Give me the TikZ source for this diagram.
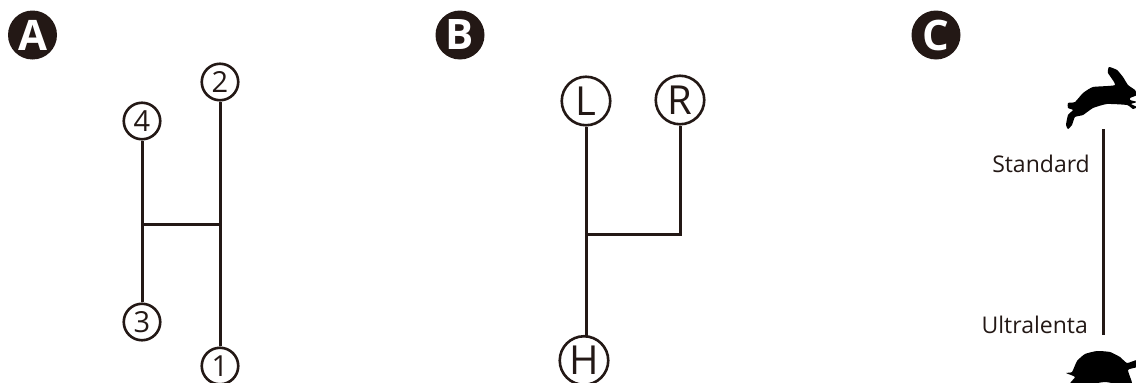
\documentclass[tikz,border=0pt]{standalone}
\usepackage{fontspec}
\setmainfont{Open Sans}
\definecolor{ink}{HTML}{231815}
\tikzset{
 x=1pt,y=-1pt,
 conn/.style={draw=ink,line width=3pt},
 posn/.style={circle,draw=ink,line width=2.6pt,fill=white,minimum size=36.5pt,inner sep=0pt,text=ink,font=\fontsize{29}{29}\selectfont},
 posb/.style={posn,minimum size=48.5pt,font=\fontsize{40}{40}\selectfont},
 badge/.style={circle,fill=ink,minimum size=49pt,inner sep=0pt,text=white,font=\fontsize{42}{42}\selectfont\bfseries},
 lab/.style={anchor=base east,inner sep=0pt,text=ink,font=\fontsize{23}{23}\selectfont},
 sil/.style={fill=black,draw=none}
}
\begin{document}
\begin{tikzpicture}
\useasboundingbox (0,0) rectangle (1136,383);
\node[badge] (a) at (32.5,35) {A};
\node[badge] (b) at (460,35) {B};
\node[badge] (c) at (936,35) {C};
\node[posn] (n2) at (220,82) {2};
\node[posn] (n4) at (142,121) {4};
\node[posn] (n3) at (142,322) {3};
\node[posn] (n1) at (220,366) {1};
\coordinate (j1) at (142,224);
\coordinate (j2) at (220,224);
\draw[conn] (n2) -- (n1);
\draw[conn] (n4) -- (n3);
\draw[conn] (j1) -- (j2);
\node[posb] (l) at (586,101) {L};
\node[posb] (r) at (680,100) {R};
\node[posb] (h) at (584,360.5) {H};
\coordinate (j3) at (586,234);
\coordinate (j4) at (680,234);
\coordinate (hh) at (586,336);
\draw[conn] (l) -- (hh);
\draw[conn] (j3) -- (j4) -- (r);
\coordinate (ct) at (1103,129);
\coordinate (cb) at (1103,335);
\draw[conn] (ct) -- (cb);
\node[lab] (s) at (1090,172) {Standard};
\node[lab] (u) at (1088,333.5) {Ultralenta};
\fill[sil] plot[smooth cycle,tension=0.3] coordinates {(1109,67)(1117,70)(1123,77)(1128,85)(1135,90)(1137,95)(1130,98)(1130,100)(1137,102)(1131,104)(1137,107)(1133,109)(1127,105)(1107,104)(1093,108)(1083,115)(1075,117)(1072,125)(1068,129)(1066,125)(1068,115)(1073,110)(1068,108)(1068,103)(1075,102)(1083,93)(1093,87)(1115,85)(1108,73)};
\fill[sil] plot[smooth cycle,tension=0.3] coordinates {(1097,351)(1110,352)(1120,357)(1127,363)(1137,360)(1137,367)(1128,370)(1132,384)(1118,384)(1105,382)(1090,384)(1070,384)(1075,377)(1066,373)(1072,372)(1077,361)(1085,354)};
\end{tikzpicture}
\end{document}
